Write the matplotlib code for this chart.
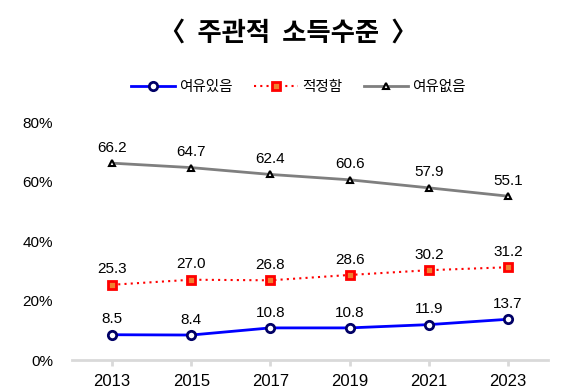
import matplotlib
matplotlib.use("Agg")
import matplotlib.pyplot as plt

plt.rcParams['font.family'] = ['Liberation Sans', 'Noto Sans CJK KR', 'DejaVu Sans']

years = ["2013", "2015", "2017", "2019", "2021", "2023"]
yeoyu_isseum = [8.5, 8.4, 10.8, 10.8, 11.9, 13.7]
jeokjeong = [25.3, 27.0, 26.8, 28.6, 30.2, 31.2]
yeoyu_eopseum = [66.2, 64.7, 62.4, 60.6, 57.9, 55.1]
yticks = [0, 20, 40, 60, 80]

fig = plt.figure(figsize=(5.63, 3.9), dpi=100)
ax = fig.add_axes([0.1286, 0.0769, 0.844, 0.610])

x = range(len(years))
l1, = ax.plot(x, yeoyu_isseum, color="#0000FF", lw=2, marker="o", ms=6,
              mfc="white", mec="#000066", mew=2, label="여유있음")
l2, = ax.plot(x, jeokjeong, color="#FF0000", lw=1.5, ls=(0, (1, 2)), marker="s", ms=6,
              mfc="#F08030", mec="#FF0000", mew=2, label="적정함")
l3, = ax.plot(x, yeoyu_eopseum, color="#7F7F7F", lw=2, marker="^", ms=5,
              mfc="white", mec="black", mew=1.5, label="여유없음")

for series in (yeoyu_isseum, jeokjeong, yeoyu_eopseum):
    for i, v in enumerate(series):
        ax.annotate(f"{v:.1f}", (i, v), xytext=(0, 6), textcoords="offset points",
                    ha="center", va="bottom", fontsize=11)

ax.set_xlim(-0.5, len(years) - 0.5)
ax.set_ylim(0, 80)
ax.set_xticks(list(x))
ax.set_xticklabels(years, fontsize=12)
ax.set_yticks(yticks)
ax.set_yticklabels([f"{t}%" for t in yticks], fontsize=11)
for s in ("top", "right", "left"):
    ax.spines[s].set_visible(False)
ax.spines["bottom"].set_color("#D9D9D9")
ax.spines["bottom"].set_linewidth(2)
ax.spines["bottom"].set_zorder(0)
ax.tick_params(axis="y", length=0, pad=14)
ax.tick_params(axis="x", length=4, width=2, color="#D9D9D9", pad=6)

fig.text(0.512, 0.915, "〈  주관적  소득수준  〉", ha="center", va="center",
         fontsize=19, fontweight="bold", family=['Noto Sans CJK KR', 'DejaVu Sans'])

fig.legend(handles=[l1, l2, l3], loc="center", bbox_to_anchor=(0.53, 0.777), ncol=3,
           frameon=False, handlelength=3, columnspacing=1.5,
           handletextpad=0.3, prop={'family': ['Noto Sans CJK KR'], 'size': 10.5})

fig.savefig("out.png", dpi=100)
